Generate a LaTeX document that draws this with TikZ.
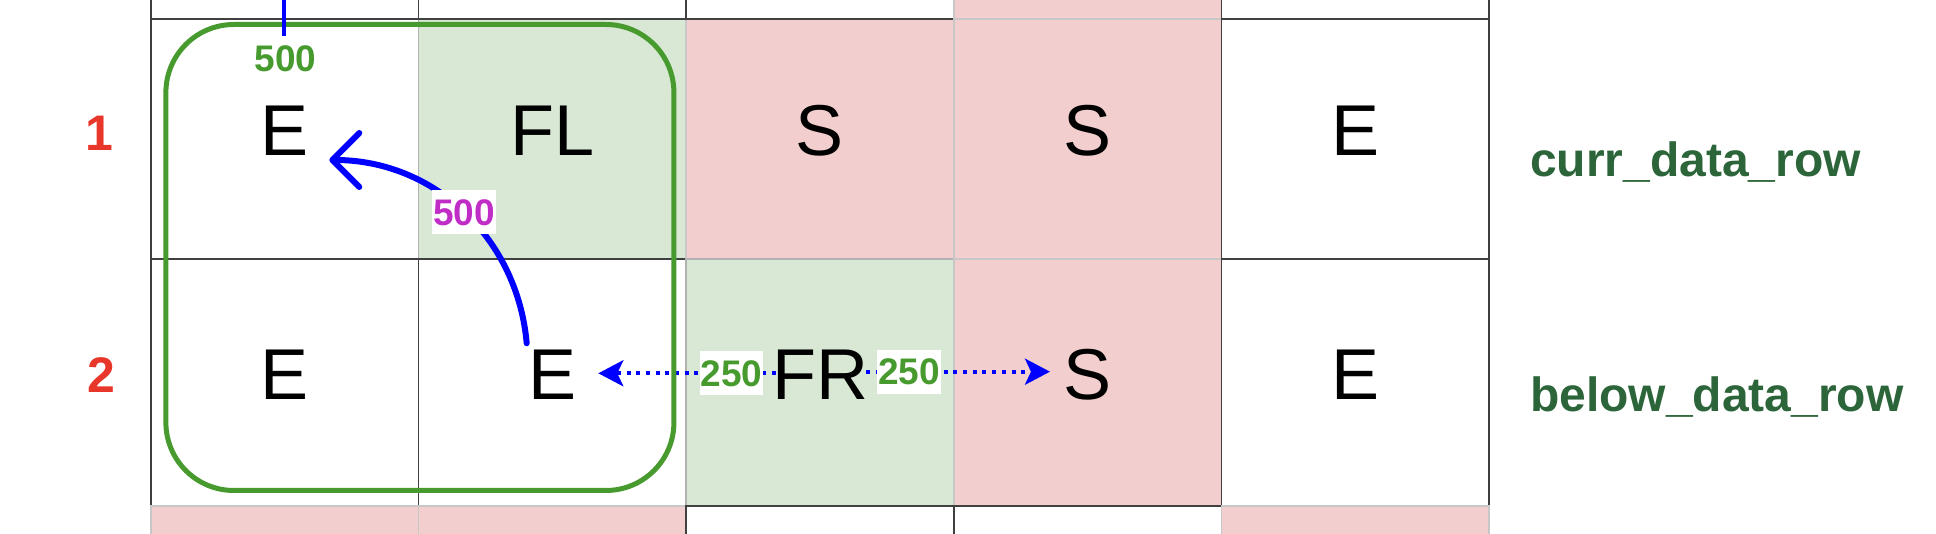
\documentclass[tikz,border=0pt]{standalone}
\usepackage{fontspec}
\setmainfont{Liberation Sans}
\usetikzlibrary{shapes,arrows.meta,positioning}
\definecolor{cellgreen}{HTML}{D9E8D5}
\definecolor{cellpink}{HTML}{F2CFCE}
\definecolor{wingreen}{HTML}{479A2E}
\definecolor{lblmagenta}{HTML}{BF2DC6}
\definecolor{idxred}{HTML}{E8372A}
\definecolor{namegreen}{HTML}{2C6539}
\tikzstyle{cell} = [rectangle, draw=black!75, line width=1.5pt, minimum width=267.6pt, minimum height=240pt, inner sep=0pt, text height=52pt, text depth=18pt, font=\fontsize{72}{80}\selectfont, node distance=267.6pt]
\tikzstyle{taller} = [minimum height=247pt]
\tikzstyle{greencell} = [fill=cellgreen, draw=black!30]
\tikzstyle{pinkcell} = [fill=cellpink, draw=black!22]
\tikzstyle{window} = [rectangle, draw=wingreen, line width=5pt, rounded corners=68pt, minimum width=508pt, minimum height=466pt]
\tikzstyle{weight} = [fill=white, text=wingreen, inner xsep=1pt, inner ysep=9pt, font=\bfseries\fontsize{37}{40}\selectfont]
\tikzstyle{idx} = [text=idxred, font=\bfseries\fontsize{50}{56}\selectfont]
\tikzstyle{rowname} = [text=namegreen, anchor=base west, inner sep=0pt, font=\bfseries\fontsize{48}{56}\selectfont]
\tikzstyle{line} = [draw=blue, line width=4pt]
\tikzstyle{dotline} = [draw=blue, line width=4pt, dash pattern=on 4pt off 5.7pt, -{Stealth[length=25pt,width=26pt,inset=6pt]}]
\tikzstyle{bendline} = [draw=blue, line width=6pt, line cap=round, -{Straight Barb[length=27pt,width=54pt,round]}]

\begin{document}
\begin{tikzpicture}[x=1pt,y=1pt]
\useasboundingbox (0,0) rectangle (1936,534);
\clip (0,0) rectangle (1936,534);

% curr_data_row
\node [cell] (r1c1) at (284.8,395.1) {E};
\node [cell, greencell, right of=r1c1] (r1c2) {FL};
\node [cell, pinkcell, right of=r1c2] (r1c3) {S};
\node [cell, pinkcell, right of=r1c3] (r1c4) {S};
\node [cell, right of=r1c4] (r1c5) {E};

% row above
\node [cell, taller, above of=r1c1, node distance=243.6pt] (r0c1) {};
\node [cell, taller, right of=r0c1] (r0c2) {};
\node [cell, taller, right of=r0c2] (r0c3) {};
\node [cell, taller, pinkcell, right of=r0c3] (r0c4) {};
\node [cell, taller, right of=r0c4] (r0c5) {};

% below_data_row
\node [cell, taller, below of=r1c1, node distance=243.6pt] (r2c1) {E};
\node [cell, taller, right of=r2c1] (r2c2) {E};
\node [cell, taller, greencell, right of=r2c2] (r2c3) {FR};
\node [cell, taller, pinkcell, right of=r2c3] (r2c4) {S};
\node [cell, taller, right of=r2c4] (r2c5) {E};

% row below
\node [cell, pinkcell, below of=r2c1, node distance=243.6pt] (r3c1) {};
\node [cell, pinkcell, right of=r3c1] (r3c2) {};
\node [cell, right of=r3c2] (r3c3) {};
\node [cell, right of=r3c3] (r3c4) {};
\node [cell, pinkcell, right of=r3c4] (r3c5) {};

% row numbers and names
\node [idx, left of=r1c1, node distance=185.8pt, yshift=6pt] (idx1) {1};
\node [idx, left of=r2c1, node distance=183.8pt, yshift=7.8pt] (idx2) {2};
\node [rowname] (currname) at (1530,357.3) {curr\_data\_row};
\node [rowname] (belowname) at (1530,122.3) {below\_data\_row};

% split to the sides
\path [dotline] ([shift={(-44,9.2)}]r2c3.center) -- node[weight, pos=0.25] (wleft) {250} ([shift={(45.9,9.2)}]r2c2.center);
\path [dotline] ([shift={(46,10.8)}]r2c3.center) -- node[weight, pos=0.235] (wright) {250} ([shift={(-37.6,10.8)}]r2c4.center);

\node [window] (win) at (419.9,276.5) {};

% inflow from above
\node [weight] (wtop) at (285.6,475.2) {500};
\coordinate (feed) at (283.7,545);
\path [line] (feed) -- (feed |- wtop.north);

% move up
\path [bendline] ([shift={(-25.7,39.2)}]r2c2.center) to[out=95,in=0] node[weight, text=lblmagenta] (wmid) {500} ([shift={(44.5,-21.1)}]r1c1.center);

\end{tikzpicture}
\end{document}
